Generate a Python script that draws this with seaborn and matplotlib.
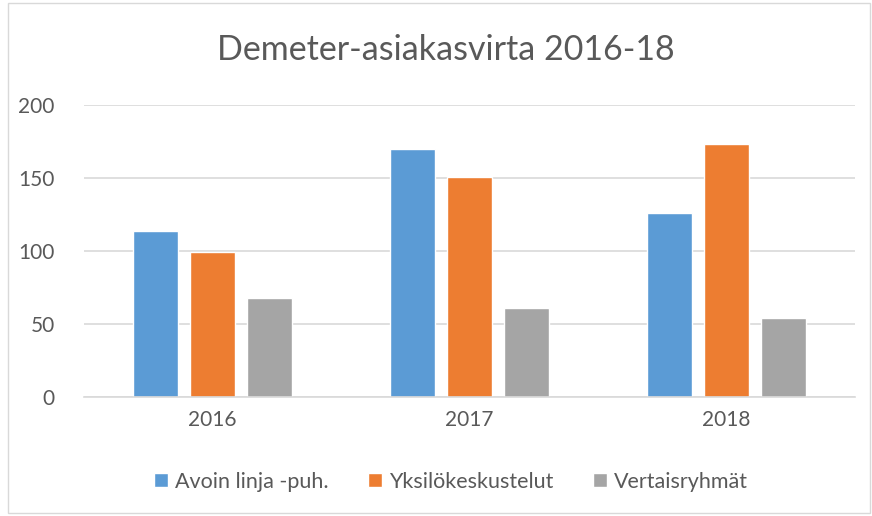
import matplotlib
matplotlib.use("Agg")
import matplotlib.pyplot as plt
import seaborn as sns
import pandas as pd

years = ["2016", "2017", "2018"]
series = ["Avoin linja -puh.", "Yksilökeskustelut", "Vertaisryhmät"]
avoin = [114, 170, 126]
yksilo = [99, 151, 173]
vertais = [68, 61, 54]
colors = ["#5B9BD5", "#ED7D31", "#A5A5A5"]

df = pd.DataFrame({
    "Vuosi": years * 3,
    "Sarja": [s for s in series for _ in years],
    "Arvo": avoin + yksilo + vertais,
})

sns.set_theme(style="white")
plt.rcParams["font.family"] = ["Lato", "DejaVu Sans"]
txt = "#595959"

fig = plt.figure(figsize=(8.72, 5.16), dpi=100)
ax = fig.add_axes([84 / 872, 1 - 397 / 516, 771 / 872, 292 / 516])

sns.barplot(data=df, x="Vuosi", y="Arvo", hue="Sarja", palette=colors,
            width=0.665, gap=0.21, ax=ax, saturation=1, legend=True)

ax.set_xlim(-0.5, 2.5)
ax.set_ylim(0, 200)
ax.set_yticks([0, 50, 100, 150, 200])
ax.yaxis.grid(True, color="#D9D9D9", linewidth=1.2)
ax.set_axisbelow(True)
for s in ["top", "right", "left"]:
    ax.spines[s].set_visible(False)
ax.spines["bottom"].set_color("#D9D9D9")
ax.spines["bottom"].set_linewidth(1.2)
ax.tick_params(axis="both", length=0, labelsize=15, colors=txt)
ax.tick_params(axis="x", pad=9)
ax.tick_params(axis="y", pad=21)
ax.set_xlabel("")
ax.set_ylabel("")

ax.legend(loc="center", bbox_to_anchor=(0.476, -0.29), ncol=3, frameon=False,
          fontsize=15.5, labelcolor=txt, handlelength=0.65, handleheight=0.65,
          handletextpad=0.35, columnspacing=1.8)

fig.text(446 / 872, 1 - 50 / 516, "Demeter-asiakasvirta 2016-18", ha="center", va="center",
         fontsize=24.5, color=txt)

fig.patches.append(plt.Rectangle((8 / 872, 0.005), 862 / 872, 0.99, transform=fig.transFigure,
                                 fill=False, edgecolor="#D9D9D9", linewidth=1))

fig.savefig("out.png", dpi=100)
